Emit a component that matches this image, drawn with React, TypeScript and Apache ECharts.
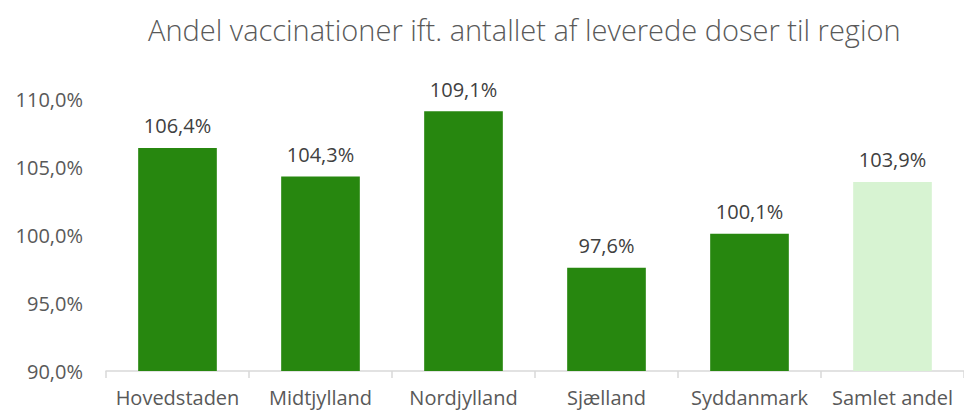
import React, { useEffect, useRef } from "react";
import * as echarts from "echarts";

const categories = ["Hovedstaden", "Midtjylland", "Nordjylland", "Sjælland", "Syddanmark", "Samlet andel"];
const values = [106.4, 104.3, 109.1, 97.6, 100.1, 103.9];
const barColors = ["#27870f", "#27870f", "#27870f", "#27870f", "#27870f", "#d7f3d2"];
const title = "Andel vaccinationer ift. antallet af leverede doser til region";

const fmt = (v: number) => v.toFixed(1).replace(".", ",") + "%";
const FONT = "'Open Sans', 'Noto Sans', sans-serif";

export default function App() {
  const ref = useRef<HTMLDivElement>(null);
  useEffect(() => {
    if (!ref.current) return;
    const chart = echarts.init(ref.current, null, { renderer: "svg" });
    chart.setOption({
      animation: false,
      title: {
        text: title,
        left: 143,
        top: 10,
        textStyle: { fontFamily: FONT, fontSize: 29, fontWeight: 300, color: "#595959" },
      },
      grid: { left: 106, top: 99, width: 864, height: 272, containLabel: false },
      xAxis: {
        type: "category",
        data: categories,
        axisLine: { lineStyle: { color: "#d9d9d9", width: 1.5 } },
        axisTick: { show: true, length: 7, lineStyle: { color: "#d9d9d9", width: 1.5 } },
        axisLabel: { fontFamily: FONT, fontSize: 20, color: "#595959", margin: 16, interval: 0 },
      },
      yAxis: {
        type: "value",
        min: 90,
        max: 110,
        interval: 5,
        axisLine: { show: false },
        axisTick: { show: false },
        splitLine: { show: false },
        axisLabel: {
          fontFamily: FONT,
          fontSize: 20,
          color: "#595959",
          margin: 23,
          formatter: (v: number) => fmt(v),
        },
      },
      series: [
        {
          type: "bar",
          barWidth: "55%",
          data: values.map((v, i) => ({ value: v, itemStyle: { color: barColors[i] } })),
          label: {
            show: true,
            position: "top",
            distance: 12,
            fontFamily: FONT,
            fontSize: 20,
            color: "#404040",
            formatter: (p: any) => fmt(p.value),
          },
        },
      ],
    });
    return () => chart.dispose();
  }, []);
  return <div ref={ref} style={{ width: 964, height: 412, position: "absolute", left: 0, top: 0 }} />;
}
